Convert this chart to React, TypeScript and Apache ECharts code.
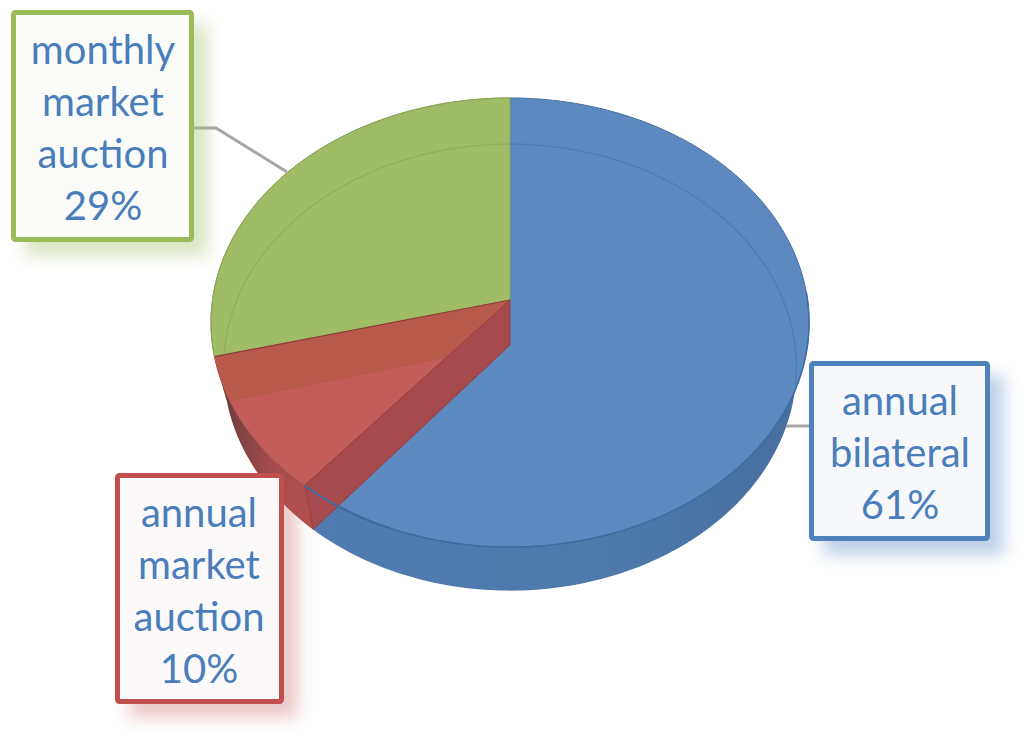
import React, { useEffect, useRef } from "react";
import * as echarts from "echarts";

const sliceNames = ["annual\nbilateral", "annual\nmarket\nauction", "monthly\nmarket\nauction"];
const sliceShares = [61, 10, 29];

// Perspective pie geometry
const TOP = { cx: 510, cy: 300, a: 222.3, b: 297.5 };
const BOTTOM = { cx: 510, cy: 345, a: 221, b: 285 };
const K = 0.1003;

const FACE = ["#5B89C0", "#C45C59", "#A0BC66"];
const EDGE = ["#47709F", "#A5494A", "#8DA857"];
const BOX_BORDER = ["#4F81BD", "#C0504D", "#9BBB59"];
const BOX_FILL = ["#F6F8FB", "#FBF9F9", "#FBFCFA"];
const BOX_SHADOW = ["rgba(79,129,189,0.36)", "rgba(192,80,77,0.3)", "rgba(155,187,89,0.36)"];
const BOX_RECT = [
  { x: 811.5, y: 363.5, w: 176, h: 175, tx: 900, ty: 451.5 },
  { x: 117.5, y: 475.5, w: 164, h: 226, tx: 199, ty: 589.5 },
  { x: 13.5, y: 12.5, w: 178, h: 227, tx: 103, ty: 127 },
];

const proj = (deg: number, g: typeof TOP): number[] => {
  const t = (deg * Math.PI) / 180;
  const u = Math.sin(t);
  const v = -Math.cos(t);
  const w = 1 - K * v;
  return [g.cx + (u * g.b) / w, g.cy + (v * g.a) / w];
};
const arc = (from: number, to: number, g: typeof TOP): number[][] => {
  const n = Math.max(2, Math.ceil(Math.abs(to - from)));
  const out: number[][] = [];
  for (let i = 0; i <= n; i++) out.push(proj(from + ((to - from) * i) / n, g));
  return out;
};
const startDeg = (i: number) =>
  (sliceShares.slice(0, i).reduce((s, v) => s + v, 0) / sliceShares.reduce((s, v) => s + v, 0)) * 360;
const endDeg = (i: number) => startDeg(i + 1);

const poly = (points: number[][], style: any) => ({ type: "polygon", shape: { points }, style });
const line = (points: number[][], stroke: string, lineWidth: number) => ({
  type: "polyline",
  shape: { points },
  style: { stroke, lineWidth, fill: null },
});

const grad = (stops: [number, string][]) =>
  new echarts.graphic.LinearGradient(
    0,
    0,
    1,
    0,
    stops.map(([offset, color]) => ({ offset, color }))
  );

const wallsLayer = (i: number) => {
  const s = startDeg(i);
  const e = endDeg(i);
  const children: any[] = [];
  if (i === 0) {
    const pts = [...arc(95, e, TOP), ...arc(e, 95, BOTTOM)];
    children.push(poly(pts, { fill: grad([[0, "#4F7BB0"], [0.6, "#4F79AB"], [1, "#466E9F"]]) }));
  } else if (i === 1) {
    const pts = [...arc(s, e, TOP), ...arc(e, s, BOTTOM)];
    children.push(poly(pts, { fill: grad([[0, "#503434"], [0.2, "#7A4040"], [0.55, "#A24B4B"], [1, "#B24F4E"]]) }));
  } else {
    const pts = [...arc(s, 278, TOP), ...arc(278, s, BOTTOM)];
    children.push(poly(pts, { fill: "#5D5140" }));
  }
  return { type: "group", children };
};

const facesLayer = (i: number) => {
  const pts = [[TOP.cx, TOP.cy], ...arc(startDeg(i), endDeg(i), TOP)];
  return {
    type: "group",
    children: [poly(pts, { fill: FACE[i], stroke: EDGE[i], lineWidth: 1 })],
  };
};

const overlayLayer = (i: number) => {
  const s = startDeg(i);
  const e = endDeg(i);
  const children: any[] = [];
  if (i === 0) {
    // far rim of the base, seen through the blue top
    children.push(line(arc(0, 100, BOTTOM), "#4F7DB5", 1.5));
    children.push(line(arc(88, e, TOP), "#3F6CA4", 1.5));
  }
  if (i === 2) {
    children.push(line(arc(s + 12, 360, BOTTOM), "#92AF5E", 1.5));
    children.push(line(arc(s, 360, TOP), "#8AA654", 1));
  }
  if (i === 1) {
    // cut face of the green slice, seen through the red top
    const base = proj(e, BOTTOM);
    const crossesBelow = (d: number) => {
      const p = proj(d, TOP);
      const yOnRay = BOTTOM.cy + ((p[0] - BOTTOM.cx) / (base[0] - BOTTOM.cx)) * (base[1] - BOTTOM.cy);
      return p[1] > yOnRay;
    };
    let dEnd = e;
    while (dEnd > s && !crossesBelow(dEnd)) dEnd -= 0.25;
    const band = [[TOP.cx, TOP.cy], ...arc(e, dEnd, TOP), [BOTTOM.cx, BOTTOM.cy]];
    children.push(poly(band, { fill: "#B9594C" }));
    // cut face between the red and blue slices
    const topEnd = proj(s, TOP);
    const botEnd = proj(s, BOTTOM);
    children.push(
      poly([[TOP.cx, TOP.cy], [BOTTOM.cx, BOTTOM.cy], botEnd, topEnd], {
        fill: "#A64A4E",
        stroke: "#96403F",
        lineWidth: 1,
      })
    );
    children.push(line([[TOP.cx, TOP.cy], proj(e, TOP)], "#8E3C36", 1.2));
    children.push(line(arc(s - 18, s, TOP), "#41699F", 2));
  }
  return { type: "group", children };
};

const labelLayer = (i: number, value: number) => {
  const r = BOX_RECT[i];
  return {
    type: "group",
    children: [
      {
        type: "rect",
        shape: { x: r.x, y: r.y, width: r.w, height: r.h, r: 2 },
        style: {
          fill: BOX_FILL[i],
          stroke: BOX_BORDER[i],
          lineWidth: 5,
          shadowBlur: 16,
          shadowOffsetX: 14,
          shadowOffsetY: 14,
          shadowColor: BOX_SHADOW[i],
        },
      },
      {
        type: "text",
        style: {
          x: r.tx,
          y: r.ty,
          text: `${sliceNames[i]}\n${value}%`,
          fill: "#4A7EBB",
          fontFamily: "Lato",
          fontSize: 40,
          lineHeight: 52,
          align: "center",
          verticalAlign: "middle",
        },
      },
    ],
  };
};

const layer = (z: number, fn: (i: number, v: number) => any) => ({
  type: "custom",
  coordinateSystem: "none",
  silent: true,
  clip: false,
  z,
  data: sliceShares,
  renderItem: (params: any, api: any) => fn(params.dataIndex, api.value(0)),
});

const leaderLayer = (i: number) => {
  const paths = [
    [[786, 426], [810, 426]],
    null,
    [[193, 128], [216, 128], [287, 172]],
  ][i] as number[][] | null;
  return { type: "group", children: paths ? [line(paths, "#A6A6A6", 3)] : [] };
};

export default function App() {
  const ref = useRef<HTMLDivElement>(null);
  useEffect(() => {
    document.body.style.margin = "0";
    document.body.style.background = "#fff";
    const chart = echarts.init(ref.current!, undefined, { renderer: "svg" });
    chart.setOption({
      animation: false,
      backgroundColor: "#ffffff",
      series: [
        layer(1, wallsLayer),
        layer(2, facesLayer),
        layer(3, overlayLayer),
        layer(4, leaderLayer),
        layer(5, labelLayer),
      ],
    });
    return () => chart.dispose();
  }, []);
  return <div ref={ref} style={{ width: 1024, height: 738 }} />;
}
